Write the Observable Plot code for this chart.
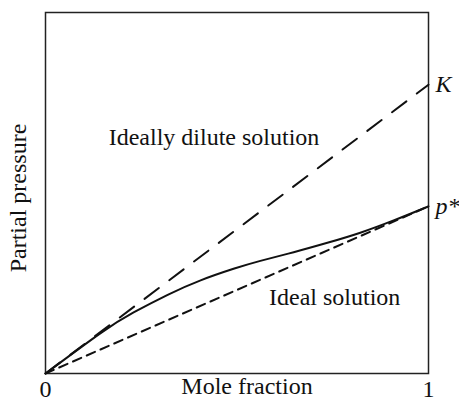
<!DOCTYPE html>
<html>
<head>
<meta charset="utf-8">
<script src="https://cdn.jsdelivr.net/npm/d3@7"></script>
<script src="https://cdn.jsdelivr.net/npm/@observablehq/plot@0.6"></script>
<style>
  html, body { margin: 0; padding: 0; background: #fff; }
  svg { display: block; }
</style>
</head>
<body>
<div id="chart"></div>
<script>
// Data (mole fraction, partial pressure — relative units)
const henryK = 0.80;        // K : ideally dilute (Henry's law) end value
const raoultP = 0.463;      // p*: ideal (Raoult's law) end value
const realX = [0, 0.144, 0.230, 0.319, 0.405, 0.491, 0.561, 0.648, 0.736, 0.822, 0.909, 1];
const realY = [0, 0.112, 0.169, 0.218, 0.258, 0.290, 0.312, 0.336, 0.362, 0.390, 0.424, 0.463];
const xTicks = [0, 1];
const regionLabels = ["Ideally dilute solution", "Ideal solution"];
const regionX = [0.44, 0.755];
const regionY = [0.655, 0.21];
const endLabels = ["K", "p*"];
const axisLabels = { x: "Mole fraction", y: "Partial pressure" };

const henry = [{x: 0, y: 0}, {x: 1, y: henryK}];
const raoult = [{x: 0, y: 0}, {x: 1, y: raoultP}];
const real = realX.map((x, i) => ({x, y: realY[i]}));
const regions = regionLabels.map((t, i) => ({t, x: regionX[i], y: regionY[i]}));
const ends = [{t: endLabels[0], y: henryK}, {t: endLabels[1], y: raoultP}];

const font = "Liberation Serif, DejaVu Serif";

const chart = Plot.plot({
  width: 459,
  height: 401,
  marginTop: 12,
  marginBottom: 28,
  marginLeft: 45,
  marginRight: 31,
  style: { fontFamily: font, fontSize: "24px", color: "#111", background: "#fff" },
  x: { domain: [0, 1], axis: null },
  y: { domain: [0, 1], axis: null },
  marks: [
    Plot.frame({ stroke: "#222", strokeWidth: 1.5 }),
    Plot.line(henry, { x: "x", y: "y", stroke: "#111", strokeWidth: 2, strokeDasharray: "18,13" }),
    Plot.line(raoult, { x: "x", y: "y", stroke: "#111", strokeWidth: 2, strokeDasharray: "9,6" }),
    Plot.line(real, { x: "x", y: "y", curve: "natural", stroke: "#111", strokeWidth: 2 }),
    Plot.text(regions, { x: "x", y: "y", text: "t", fill: "#111", fontSize: 24, fontFamily: font }),
    Plot.text(ends, { x: () => 1, y: "y", text: "t", dx: 7, textAnchor: "start", fontStyle: "italic", fill: "#111", fontSize: 24, fontFamily: font }),
    Plot.axisX(xTicks, { tickSize: 0, tickPadding: 6, fontSize: 24, fill: "#111", label: null, tickFormat: d => String(d), fontFamily: font }),
    Plot.text([axisLabels.x], { frameAnchor: "bottom", dy: 20, dx: 10, fill: "#111", fontSize: 24, fontFamily: font }),
    Plot.text([axisLabels.y], { frameAnchor: "left", textAnchor: "middle", rotate: -90, dx: -27, dy: 5, fill: "#111", fontSize: 24, fontFamily: font })
  ]
});
document.getElementById("chart").append(chart);
</script>
</body>
</html>
